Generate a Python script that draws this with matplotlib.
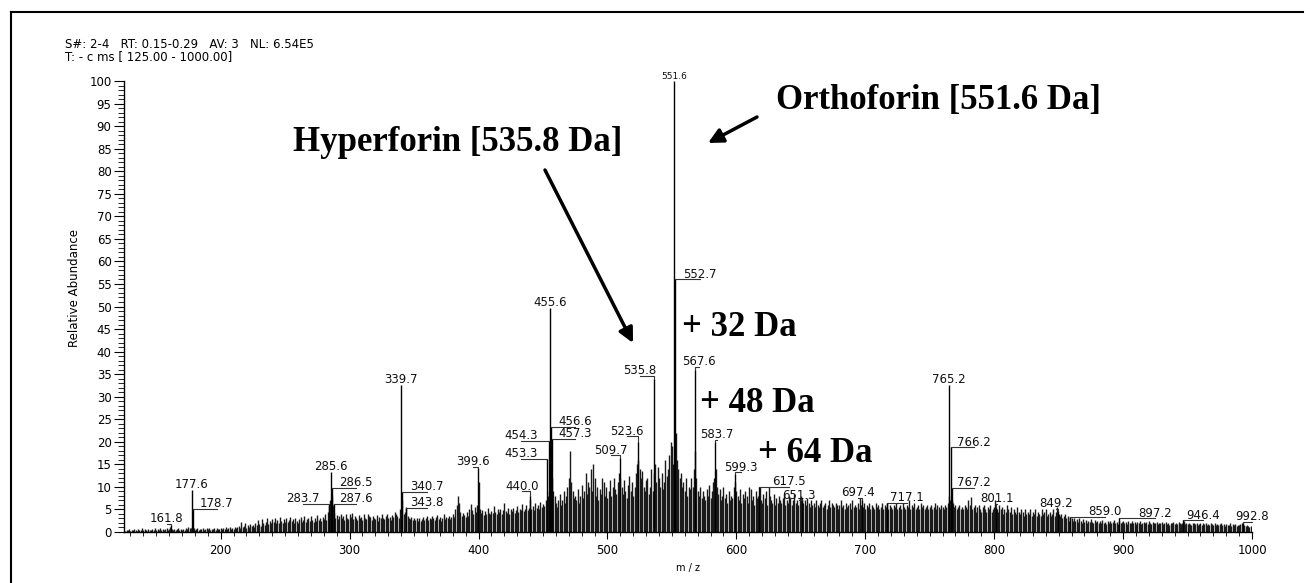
import numpy as np
import matplotlib
matplotlib.use('Agg')
import matplotlib.pyplot as plt
from matplotlib import transforms
from matplotlib.lines import Line2D
from matplotlib.ticker import MultipleLocator

# ---------------- data ----------------
# labelled peaks (m/z, relative abundance %)
peak_labels = ['161.8', '177.6', '178.7', '283.7', '285.6', '286.5', '287.6',
               '339.7', '340.7', '343.8', '399.6', '440.0', '453.3', '454.3',
               '455.6', '456.6', '457.3', '509.7', '523.6', '535.8', '551.6',
               '552.7', '567.6', '583.7', '599.3', '617.5', '651.3', '697.4',
               '717.1', '765.2', '766.2', '767.2', '801.1', '849.2', '859.0',
               '897.2', '946.4', '992.8']
peak_mz = [float(s) for s in peak_labels]
peak_height = [1.5, 9.3, 5.1, 6.2, 13.3, 9.8, 6.2,
               32.6, 8.9, 5.3, 14.2, 8.0, 16.2, 20.2,
               49.7, 23.3, 20.6, 16.4, 20.0, 34.0, 100.0,
               56.0, 36.0, 20.0, 12.9, 10.0, 7.0, 7.0,
               6.4, 32.6, 18.8, 9.8, 5.6, 4.6, 3.3,
               3.0, 2.6, 2.0]

# unlabelled background ions, one value per nominal mass from m/z 126 upward
noise_start_mz = 126
noise_126_200 = [0.3, 0.5, 0.4, 0.6, 0.3, 0.5, 0.4, 0.7, 0.5, 0.3, 0.6, 0.4, 0.5, 0.8, 0.4, 0.6, 0.5, 0.3, 0.7, 0.5, 0.4, 0.6, 0.5, 0.8, 0.4,
                 0.6, 0.5, 0.9, 0.4, 0.7, 0.5, 0.6, 0.8, 0.5, 0.7, 1.0, 0.6, 0.5, 0.7, 0.4, 0.6, 0.8, 0.5, 0.6, 0.4, 0.7, 0.5, 0.8, 0.6, 1.0,
                 0.8, 0.9, 1.2, 0.9, 0.5, 0.6, 0.8, 0.5, 0.7, 0.6, 0.9, 0.5, 0.7, 0.8, 0.6, 0.9, 0.5, 0.7, 0.6, 0.8, 0.5, 0.9, 0.7, 0.6, 0.8]
noise_201_300 = [0.6, 0.9, 0.7, 1.0, 0.6, 0.8, 1.1, 0.7, 0.9, 0.6, 1.2, 0.8, 1.0, 1.4, 0.9, 2.2, 1.0, 1.3, 2.0, 0.9, 1.5, 1.1, 1.8, 1.3, 1.6,
                 1.2, 2.0, 1.5, 2.6, 1.8, 1.4, 2.8, 1.9, 1.5, 2.3, 3.0, 1.8, 2.5, 2.0, 2.9, 2.2, 3.2, 1.9, 2.6, 2.1, 3.4, 2.4, 2.0, 2.8, 2.3,
                 3.0, 2.2, 2.7, 3.3, 2.4, 2.9, 2.1, 3.1, 2.5, 2.0, 2.8, 3.4, 2.3, 2.6, 3.5, 2.2, 2.9, 3.1, 2.4, 3.6, 2.7, 2.2, 3.2, 2.5, 3.8,
                 2.6, 3.0, 2.4, 3.3, 2.8, 3.9, 2.7, 4.5, 5.8, 7.0, 8.0, 6.0, 4.2, 3.2, 3.8, 2.9, 3.5, 4.1, 3.0, 3.6, 2.7, 4.0, 3.1, 2.8, 3.9]
noise_301_400 = [3.3, 4.2, 2.9, 3.6, 3.1, 2.6, 3.8, 3.0, 3.4, 2.7, 3.9, 3.2, 2.8, 4.0, 3.5, 3.3, 2.7, 3.6, 3.1, 2.9, 3.7, 2.5, 3.4, 3.0, 3.9,
                 3.2, 2.8, 3.5, 4.0, 3.1, 3.4, 2.7, 3.8, 3.3, 4.5, 4.0, 3.6, 3.0, 5.0, 3.5, 7.0, 4.0, 4.5, 5.5, 3.6, 3.0, 2.8, 3.4, 2.6, 3.1,
                 2.7, 3.2, 2.5, 3.0, 2.4, 2.8, 3.3, 2.6, 3.1, 3.5, 2.7, 3.2, 2.9, 3.6, 3.0, 2.6, 3.4, 3.8, 2.9, 3.3, 2.5, 3.1, 3.9, 2.8, 3.4,
                 3.2, 3.6, 2.9, 3.4, 4.0, 3.3, 5.2, 6.0, 8.0, 6.5, 4.5, 3.6, 4.2, 3.8, 3.4, 4.4, 3.6, 5.0, 6.2, 4.8, 4.0, 5.5, 4.5, 6.0, 11.0]
noise_401_500 = [5.0, 4.2, 4.8, 3.8, 4.6, 4.0, 5.4, 4.3, 3.9, 4.7, 4.2, 5.8, 4.4, 3.9, 5.0, 4.5, 5.2, 4.1, 4.8, 6.5, 4.6, 4.2, 5.3, 4.0, 5.0,
                 4.6, 5.4, 4.3, 4.9, 5.7, 4.4, 5.2, 4.8, 6.2, 4.6, 5.0, 6.0, 4.8, 5.4, 7.0, 5.2, 5.8, 4.9, 6.4, 5.3, 6.0, 5.1, 6.6, 5.5, 6.2,
                 5.8, 7.0, 6.0, 8.0, 9.0, 10.0, 12.0, 9.0, 8.0, 6.5, 5.5, 7.0, 8.5, 6.0, 7.2, 9.0, 6.5, 8.0, 10.0, 12.0, 18.0, 11.0, 9.0, 7.5, 8.0,
                 7.0, 9.5, 6.5, 8.0, 10.5, 7.5, 9.0, 13.0, 8.5, 11.0, 10.0, 14.0, 9.0, 15.0, 12.0, 8.0, 10.0, 7.0, 9.5, 8.5, 12.0, 11.0, 8.0, 10.0, 7.5]
noise_501_600 = [9.0, 11.5, 8.0, 10.0, 12.0, 9.5, 8.5, 11.0, 13.0, 12.0, 10.0, 8.5, 11.5, 9.0, 7.5, 10.5, 12.5, 9.0, 11.0, 8.0, 10.0, 13.0, 15.0, 16.0, 14.0,
                 12.0, 13.5, 10.0, 9.0, 11.5, 12.0, 8.5, 10.0, 14.0, 9.0, 13.0, 15.0, 11.0, 14.5, 12.0, 10.0, 13.0, 9.5, 11.0, 16.0, 12.5, 14.0, 17.0, 20.0, 19.0,
                 15.0, 12.0, 22.0, 16.0, 14.0, 12.0, 13.0, 10.0, 11.0, 9.0, 12.0, 8.0, 10.0, 9.5, 12.0, 10.0, 14.0, 18.0, 12.0, 9.0, 8.0, 10.0, 7.5, 9.0, 8.0,
                 7.0, 9.5, 8.0, 10.5, 7.5, 9.0, 11.0, 12.0, 14.0, 10.0, 8.5, 9.5, 7.0, 8.0, 10.0, 7.5, 8.5, 6.5, 9.0, 7.0, 8.0, 7.5, 10.0, 11.0, 9.0]
noise_601_700 = [8.0, 7.0, 9.5, 6.5, 8.5, 7.5, 9.0, 8.0, 6.5, 10.0, 9.5, 7.0, 8.0, 6.0, 9.0, 7.5, 8.0, 10.0, 7.0, 6.5, 8.5, 7.5, 9.0, 6.0, 10.0,
                 8.0, 7.0, 6.5, 8.5, 6.0, 7.5, 6.5, 8.0, 7.0, 6.5, 7.5, 8.5, 6.0, 7.0, 6.5, 8.0, 7.5, 6.0, 7.0, 8.5, 6.5, 7.0, 6.0, 7.5, 8.0,
                 7.5, 6.5, 7.0, 6.0, 7.5, 6.5, 5.5, 7.0, 6.0, 6.5, 5.5, 7.0, 6.0, 5.5, 6.5, 7.0, 5.5, 6.0, 6.5, 5.0, 6.0, 7.0, 5.5, 6.5, 6.0,
                 5.5, 6.5, 6.0, 5.0, 6.0, 7.0, 5.5, 6.0, 5.0, 6.5, 5.5, 6.0, 6.5, 5.0, 7.0, 5.5, 6.0, 5.5, 6.5, 5.0, 7.5, 6.0, 5.5, 6.5, 5.0]
noise_701_800 = [6.0, 5.5, 6.5, 5.0, 6.0, 5.5, 5.0, 6.5, 5.5, 6.0, 5.0, 5.5, 6.5, 5.0, 6.0, 5.5, 6.5, 5.0, 6.0, 5.5, 5.0, 6.0, 5.5, 6.5, 5.0,
                 5.5, 6.0, 5.0, 6.5, 5.5, 5.0, 6.0, 5.5, 7.0, 5.0, 6.0, 5.5, 6.5, 5.0, 5.5, 6.0, 5.0, 6.5, 5.5, 6.0, 5.0, 5.5, 6.0, 5.0, 5.5,
                 6.0, 5.0, 5.5, 6.5, 5.0, 6.0, 5.5, 5.0, 6.0, 5.5, 5.0, 6.0, 5.5, 6.5, 8.0, 7.0, 7.0, 6.5, 5.5, 6.0, 5.0, 5.5, 6.0, 5.0, 5.5,
                 5.0, 6.0, 5.5, 5.0, 7.0, 6.0, 7.8, 5.0, 5.5, 6.0, 4.5, 5.5, 6.0, 5.0, 4.5, 5.5, 6.0, 5.0, 4.5, 5.5, 5.0, 6.0, 4.5, 5.0, 5.5]
noise_801_900 = [7.0, 5.0, 4.5, 6.0, 5.0, 5.5, 4.0, 5.0, 4.5, 6.0, 5.0, 4.5, 5.5, 4.0, 5.0, 4.5, 4.0, 5.5, 4.5, 4.0, 5.0, 4.5, 3.5, 5.0, 4.0,
                 4.5, 4.0, 5.0, 3.5, 4.5, 4.0, 5.0, 3.5, 4.5, 4.0, 3.5, 5.0, 4.0, 4.5, 5.0, 3.5, 4.0, 4.5, 3.5, 4.0, 5.0, 3.5, 4.5, 5.5, 4.0,
                 3.5, 4.0, 3.0, 3.5, 4.0, 3.0, 3.5, 2.5, 3.3, 3.0, 2.5, 3.0, 2.5, 2.8, 2.2, 3.0, 2.5, 2.0, 2.8, 2.3, 2.6, 2.0, 2.5, 2.2, 2.8,
                 2.3, 2.0, 2.6, 2.2, 2.5, 1.9, 2.4, 2.1, 2.6, 2.0, 2.3, 1.8, 2.5, 2.1, 2.4, 1.9, 2.2, 2.6, 2.0, 2.3, 1.8, 2.4, 2.0, 2.2, 2.5]
noise_901_1000 = [2.0, 2.3, 1.8, 2.5, 2.1, 1.9, 2.4, 2.0, 2.2, 1.7, 2.3, 2.0, 2.5, 1.8, 2.1, 2.3, 1.9, 2.2, 1.7, 2.4, 2.0, 1.8, 2.2, 2.0, 1.9,
                  2.2, 1.8, 2.1, 1.9, 2.3, 1.7, 2.0, 2.2, 1.8, 2.0, 1.6, 2.1, 1.9, 2.2, 1.7, 2.0, 1.8, 2.3, 1.9, 1.7, 2.1, 2.4, 1.8, 2.0, 1.7,
                  2.0, 1.8, 1.6, 2.1, 1.9, 1.7, 2.0, 1.5, 1.8, 2.1, 1.6, 1.9, 1.7, 2.0, 1.5, 1.8, 1.6, 2.0, 1.7, 1.5, 1.9, 1.6, 1.8, 1.5, 1.7,
                  1.9, 1.5, 1.7, 1.4, 1.8, 1.6, 1.5, 1.9, 1.4, 1.7, 1.5, 1.8, 1.4, 1.6, 1.5, 1.7, 2.0, 1.4, 1.6, 1.3, 1.5, 1.4, 1.2, 1.3, 1.0]

header_lines = ['S#: 2-4   RT: 0.15-0.29   AV: 3   NL: 6.54E5',
                'T: - c ms [ 125.00 - 1000.00]']
x_range = (125, 1000)
y_range = (0, 100)
x_label = 'm / z'
y_label = 'Relative Abundance'

callouts = ['Orthoforin [551.6 Da]', 'Hyperforin [535.8 Da]', '+ 32 Da', '+ 48 Da', '+ 64 Da']

# ---------------- layout (text centre m/z, leader level) ----------------
label_layout = {
    '161.8': (158, 1.8), '178.7': (197, 5.1), '283.7': (263.5, 6.2),
    '286.5': (305, 9.8), '287.6': (305, 6.2), '340.7': (360, 8.9),
    '343.8': (360, 5.3), '399.6': (395.5, 14.5), '440.0': (434, 9.0),
    '453.3': (433, 16.2), '454.3': (433, 20.2), '456.6': (475, 23.3),
    '457.3': (475, 20.6), '509.7': (503, 17.0), '523.6': (515, 21.2),
    '535.8': (525, 34.6), '552.7': (572, 56.0), '567.6': (571, 36.6),
    '583.7': (584.8, 20.5), '599.3': (603.5, 13.2), '617.5': (640.7, 10.0),
    '651.3': (648.5, 7.0), '697.4': (694.5, 7.6), '717.1': (732, 6.4),
    '766.2': (784, 18.8), '767.2': (784, 9.8), '801.1': (802, 6.3),
    '849.2': (848, 5.2), '859.0': (886, 3.3), '897.2': (925, 3.0),
    '946.4': (962, 2.6), '992.8': (1000, 2.2),
}

W, H = 1313, 583
fig = plt.figure(figsize=(W / 100, H / 100), dpi=100)
fig.patch.set_facecolor('white')
ax = fig.add_axes([124 / W, 1 - 532 / H, (1252 - 124) / W, (532 - 81) / H])

noise = (noise_126_200 + noise_201_300 + noise_301_400 + noise_401_500 + noise_501_600
         + noise_601_700 + noise_701_800 + noise_801_900 + noise_901_1000)
noise_mz = noise_start_mz + np.arange(len(noise))

ax.vlines(noise_mz, 0, noise, color='#1a1a1a', lw=1.0)
ax.vlines(peak_mz, 0, peak_height, color='black', lw=1.0)

ax.set_xlim(*x_range)
ax.set_ylim(*y_range)
for s in ['top', 'right']:
    ax.spines[s].set_visible(False)
for s in ['left', 'bottom']:
    ax.spines[s].set_linewidth(1.0)

ax.xaxis.set_major_locator(MultipleLocator(100))
ax.xaxis.set_minor_locator(MultipleLocator(10))
ax.yaxis.set_major_locator(MultipleLocator(5))
ax.yaxis.set_minor_locator(MultipleLocator(1))
ax.tick_params(axis='y', which='major', length=7, width=0.8, labelsize=8.5, pad=2)
ax.tick_params(axis='y', which='minor', length=4, width=0.6)
ax.tick_params(axis='x', which='major', length=5, width=0.8, labelsize=8.5, pad=4)
ax.tick_params(axis='x', which='minor', length=3, width=0.6)
ax.set_xlabel(x_label, fontsize=7, labelpad=4)
ax.set_ylabel(y_label, fontsize=8.5)
ax.yaxis.set_label_coords((81 - 124) / 1128, (532 - 288) / 451)

txt_tr = transforms.offset_copy(ax.transData, fig=fig, y=1.2, units='points')
for lab, mz, h in zip(peak_labels, peak_mz, peak_height):
    tx, ty = label_layout.get(lab, (mz, h))
    if (tx, ty) != (mz, h):
        ax.plot([mz, mz, tx], [h, ty, ty], color='#333333', lw=0.8, clip_on=False)
    fs = 6.5 if lab == '551.6' else 8.5
    ax.text(tx, ty, lab, transform=txt_tr, ha='center', va='baseline',
            fontsize=fs, color='#111111', clip_on=False)

# header
fig.text(65 / W, 1 - 44 / H, header_lines[0], fontsize=8.5, va='center', ha='left')
fig.text(65 / W, 1 - 57 / H, header_lines[1], fontsize=8.5, va='center', ha='left')

# callouts
serif = dict(family='Liberation Serif', weight='bold', fontsize=25, va='center', ha='left')
fig.text(776 / W, 1 - 100 / H, callouts[0], **serif)
fig.text(293 / W, 1 - 143 / H, callouts[1], **serif)
fig.text(682 / W, 1 - 327 / H, callouts[2], **serif)
fig.text(700 / W, 1 - 403 / H, callouts[3], **serif)
fig.text(758 / W, 1 - 454 / H, callouts[4], **serif)

arrow = dict(arrowstyle='-|>', color='black', lw=2.5, mutation_scale=22, shrinkA=0, shrinkB=0)
ax.annotate('', xy=(633, H - 343), xycoords='figure pixels',
            xytext=(545, H - 170), textcoords='figure pixels', arrowprops=arrow)
ax.annotate('', xy=(708, H - 143), xycoords='figure pixels',
            xytext=(757, H - 117), textcoords='figure pixels', arrowprops=arrow)

# outer frame
fig.add_artist(Line2D([11 / W, 11 / W], [0, 1 - 12 / H], transform=fig.transFigure, color='black', lw=1.5))
fig.add_artist(Line2D([11 / W, 1303 / W], [1 - 12 / H, 1 - 12 / H], transform=fig.transFigure, color='black', lw=1.5))

fig.savefig('out.png', dpi=100, facecolor='white')
